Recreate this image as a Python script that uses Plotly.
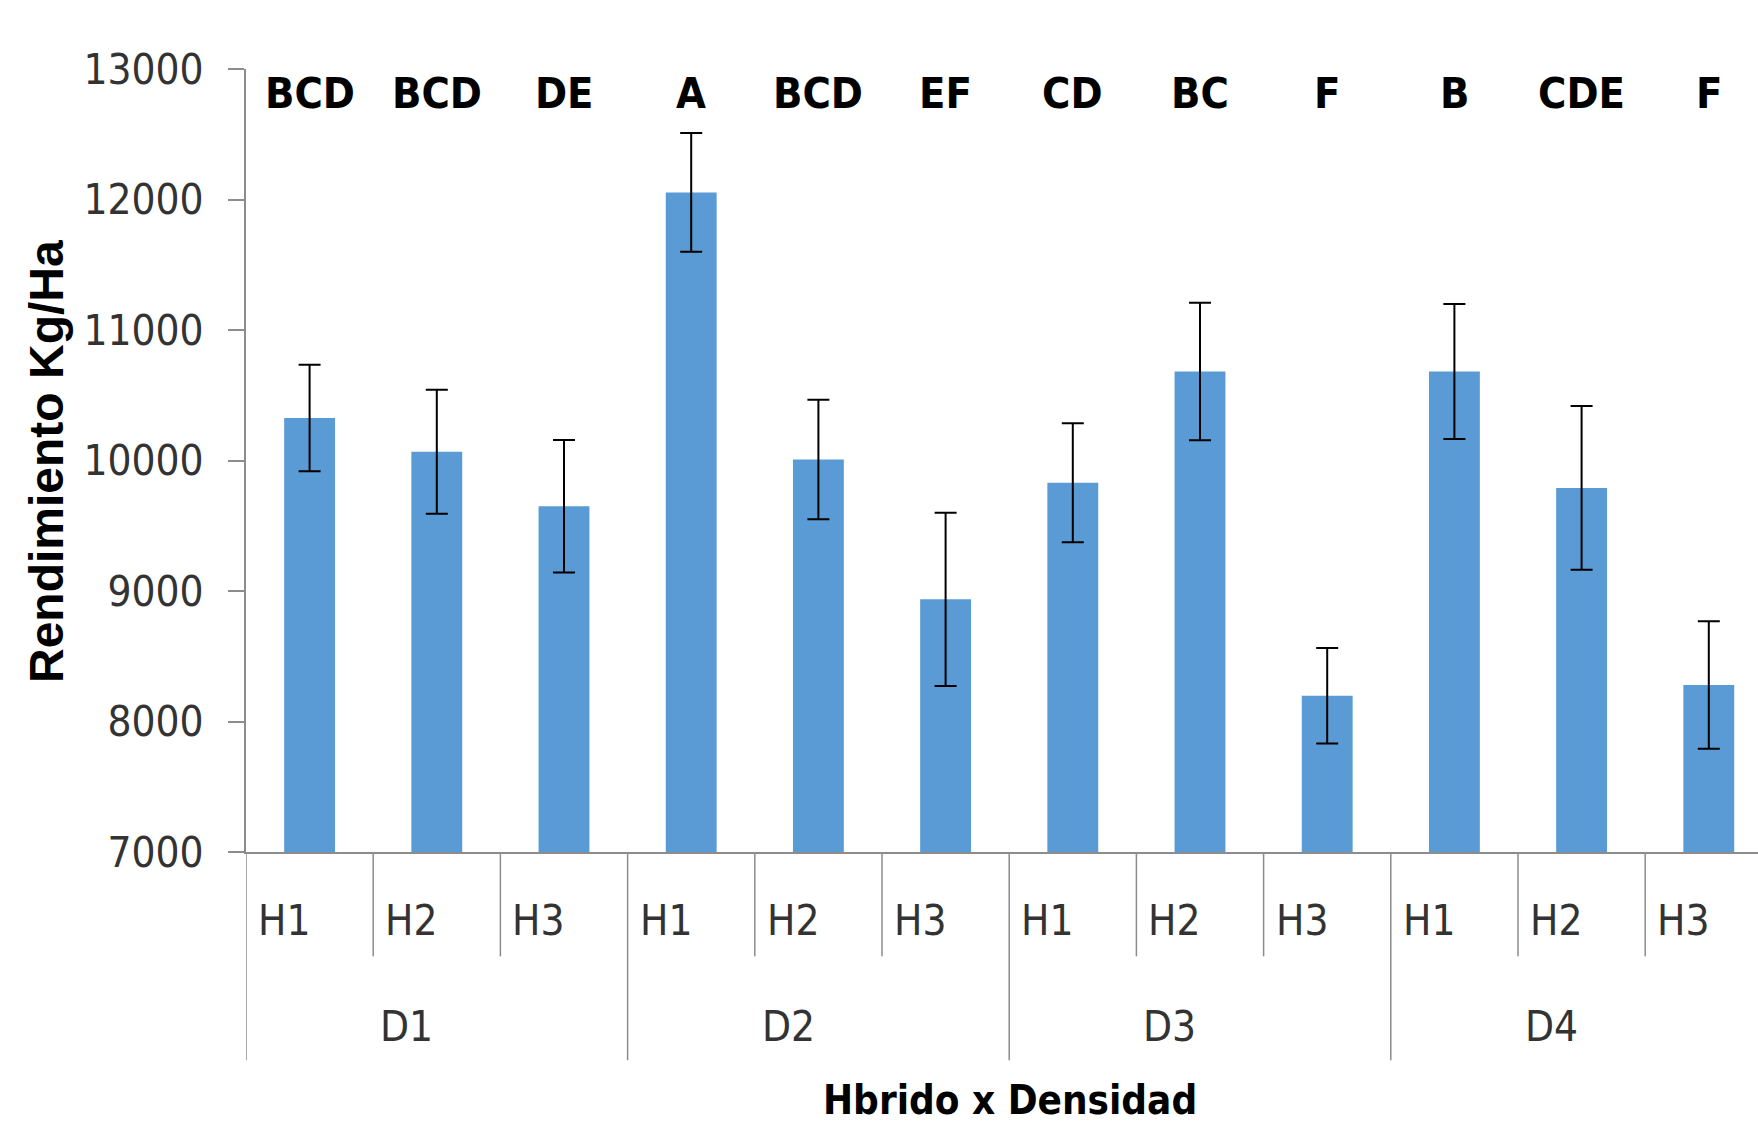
import plotly.graph_objects as go

# Yield by hybrid within each planting density
densities = ["D1", "D2", "D3", "D4"]
hybrids = ["H1", "H2", "H3"]
rendimiento = [10326, 10067, 9649, 12054, 10007, 8936, 9829, 10682, 8198, 10682, 9790, 8280]
error_std = [408, 475, 508, 455, 458, 664, 456, 526, 366, 517, 627, 489]
letras = ["BCD", "BCD", "DE", "A", "BCD", "EF", "CD", "BC", "F", "B", "CDE", "F"]
y_ticks = [7000, 8000, 9000, 10000, 11000, 12000, 13000]

W, H = 1758, 1124
ML, MT = 246, 68.5
PLOT_BOTTOM = 852.5
PH = PLOT_BOTTOM - MT
CAT_W = 127.2
PW = W - ML
x_max = -0.5 + PW / CAT_W

NARROW = "Liberation Sans Narrow, Arial Narrow, DejaVu Sans Condensed, sans-serif"
GRID = "#8c8c8c"

n = len(rendimiento)
xs = list(range(n))

fig = go.Figure()
fig.add_trace(go.Bar(
    x=xs, y=rendimiento, width=0.40,
    marker=dict(color="#5B9BD5", line=dict(width=0)),
    error_y=dict(type="data", array=error_std, visible=True,
                 color="black", thickness=2, width=11),
    showlegend=False,
))


def py(px):
    """pixel row -> paper y"""
    return (PLOT_BOTTOM - px) / PH


def px_x(px):
    """pixel column -> paper x"""
    return (px - ML) / PW


annotations = []
shapes = []

# significance letters above each bar
for i, txt in enumerate(letras):
    annotations.append(dict(x=i, y=py(93), xref="x", yref="paper", text=txt,
                            showarrow=False, xanchor="center", yanchor="middle",
                            font=dict(family=NARROW, size=43, color="black", weight="bold")))

# first-level category labels (hybrid), left aligned in each cell
for i in range(n):
    h = hybrids[i % len(hybrids)]
    annotations.append(dict(x=i - 0.5 + 10 / CAT_W, y=py(921), xref="x", yref="paper",
                            text=h, showarrow=False, xanchor="left", yanchor="middle",
                            font=dict(family=NARROW, size=42, color="#333333")))

# second-level category labels (density)
for g, d in enumerate(densities):
    mid = g * len(hybrids) + 1
    annotations.append(dict(x=mid - 0.5 + 5 / CAT_W, y=py(1027), xref="x", yref="paper",
                            text=d, showarrow=False, xanchor="left", yanchor="middle",
                            font=dict(family=NARROW, size=42, color="#333333")))

# cell separators below the axis
for k in range(n + 1):
    xb = k - 0.5
    long_sep = (k % len(hybrids) == 0)
    shapes.append(dict(type="line", xref="x", yref="paper", x0=xb, x1=xb,
                       y0=0, y1=py(1061 if long_sep else 957),
                       line=dict(color=GRID, width=1.5)))

# axis titles
annotations.append(dict(x=px_x(47), y=py(461), xref="paper", yref="paper",
                        text="Rendimiento Kg/Ha", textangle=-90, showarrow=False,
                        xanchor="center", yanchor="middle",
                        font=dict(family="Liberation Sans, Arial, sans-serif", size=48,
                                  color="black", weight="bold")))
annotations.append(dict(x=px_x(1010), y=py(1076), xref="paper", yref="paper",
                        text="Hbrido x Densidad", showarrow=False,
                        xanchor="center", yanchor="top",
                        font=dict(family=NARROW, size=40, color="black", weight="bold")))

fig.update_layout(
    width=W, height=H,
    margin=dict(l=ML, r=0, t=MT, b=H - PLOT_BOTTOM, pad=0),
    paper_bgcolor="white", plot_bgcolor="white",
    bargap=0.6,
    xaxis=dict(range=[-0.5, x_max], showticklabels=False, ticks="",
               showgrid=False, zeroline=False,
               showline=True, linecolor=GRID, linewidth=2),
    yaxis=dict(range=[7000, 13000], tickvals=y_ticks, tickformat="d",
               ticks="outside",
               ticklen=16, tickwidth=1.5, tickcolor=GRID,
               showgrid=False, zeroline=False,
               showline=True, linecolor=GRID, linewidth=2,
               ticklabelstandoff=16,
               tickfont=dict(family=NARROW, size=42, color="#333333")),
    annotations=annotations,
    shapes=shapes,
)

fig.write_html("out.html")
